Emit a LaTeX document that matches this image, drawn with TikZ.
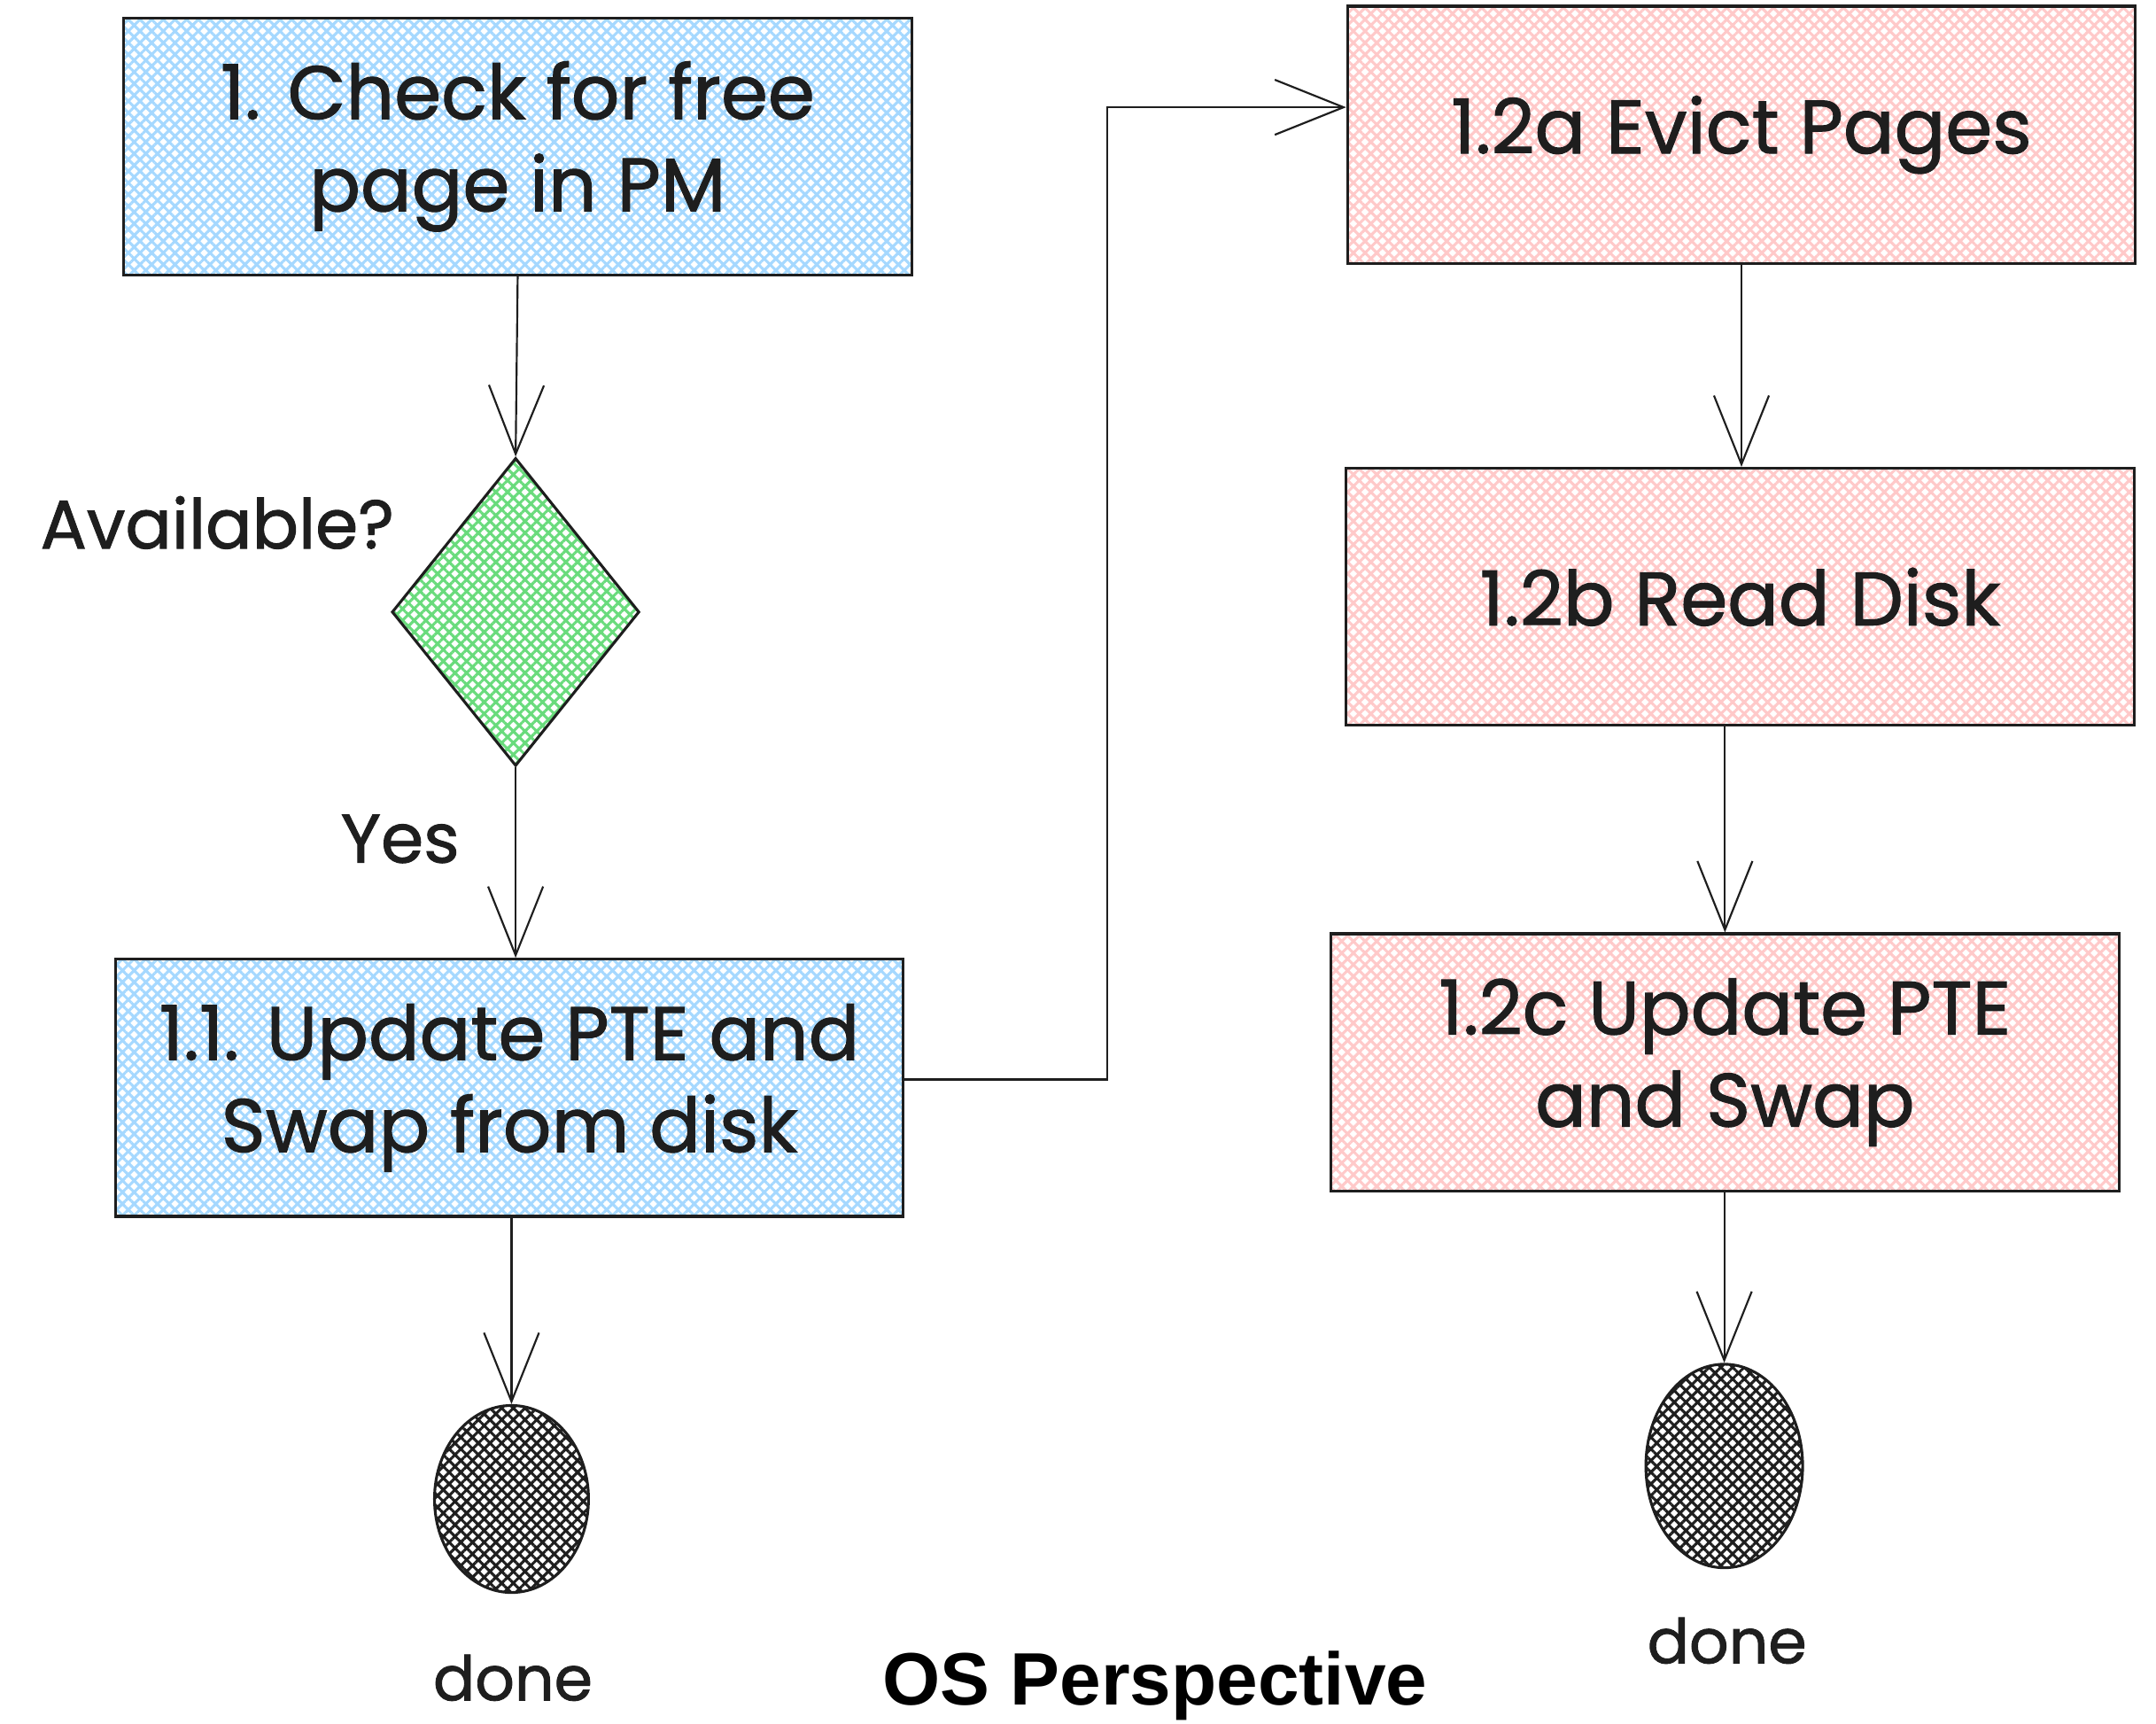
\documentclass[tikz,border=0pt]{standalone}
\usepackage{fontspec}
\setmainfont{Poppins}[FakeBold=1.2,AutoFakeBold=1.2]
\newfontfamily\titlefont{Liberation Sans}
\usetikzlibrary{shapes.geometric,arrows.meta,patterns.meta}
\definecolor{ink}{HTML}{1E1E1E}
\definecolor{skyhatch}{HTML}{A5D8FF}
\definecolor{rosehatch}{HTML}{FFC9C9}
\definecolor{leafhatch}{HTML}{69DB7C}

\begin{document}
\begin{tikzpicture}[x=1pt,y=-1pt,
  hand/.style={text=ink, font=\bfseries\fontsize{#1}{67}\selectfont},
  hand/.default=55,
  hatched/.style={pattern={Hatch[angle=45,distance=6pt,line width=2pt]}, pattern color=#1},
  stepbox/.style={hand, draw=ink, line width=2pt, hatched=#1,
    minimum width=573pt, minimum height=187pt, align=center, inner sep=0pt},
  decision/.style={diamond, draw=ink, line width=2pt, hatched=leafhatch,
    minimum width=180pt, minimum height=224pt, inner sep=0pt},
  terminal/.style={ellipse, draw=ink, line width=2pt, hatched=ink,
    inner sep=0pt},
  flow/.style={draw=ink, line width=1.4pt,
    -{Straight Barb[length=50pt,width=40pt,line width=1.4pt]}},
  title/.style={text=black, font=\titlefont\bfseries\fontsize{54}{60}\selectfont}
]
\useasboundingbox (0,0) rectangle (1568,1253);

% left column
\node[stepbox=skyhatch] (check) at (376.5,106.5) {1. Check for free\\page in PM};
\node[decision] (avail) at (375,445) {};
\node[hand=50] (availlbl) at (158,380) {Available?};
\node[hand=50] (yeslbl) at (291,610) {Yes};
\node[stepbox=skyhatch] (update) at (370.5,791) {1.1. Update PTE and\\Swap from disk};
\node[terminal, minimum width=112pt, minimum height=136pt] (doneL) at (372,1090) {};
\node[hand=45] (doneLlbl) at (373,1220) {done};

% right column
\node[stepbox=rosehatch] (evict) at (1266.5,98) {1.2a Evict Pages};
\node[stepbox=rosehatch] (readdisk) at (1265.5,434) {1.2b Read Disk};
\node[stepbox=rosehatch] (updswap) at (1254.5,772.5) {1.2c Update PTE\\and Swap};
\node[terminal, minimum width=114pt, minimum height=148pt] (doneR) at (1254,1066) {};
\node[hand=45] (doneRlbl) at (1256,1193) {done};

\node[title, anchor=base] (caption) at (840,1240) {OS Perspective};

% connectors
\coordinate (detour) at (805,78);
\draw[flow] (check.south) -- (avail.north);
\draw[flow] (avail.south) -- (avail.south |- update.north);
\draw[flow] (doneL.north |- update.south) -- (doneL.north);
\draw[flow] ([yshift=6pt]update.east) -| (detour) |- ([yshift=20pt]evict.west);
\draw[flow] (evict.south) -- (evict.south |- readdisk.north);
\draw[flow] (updswap.north |- readdisk.south) -- (updswap.north);
\draw[flow] (doneR.north |- updswap.south) -- (doneR.north);
\end{tikzpicture}
\end{document}
